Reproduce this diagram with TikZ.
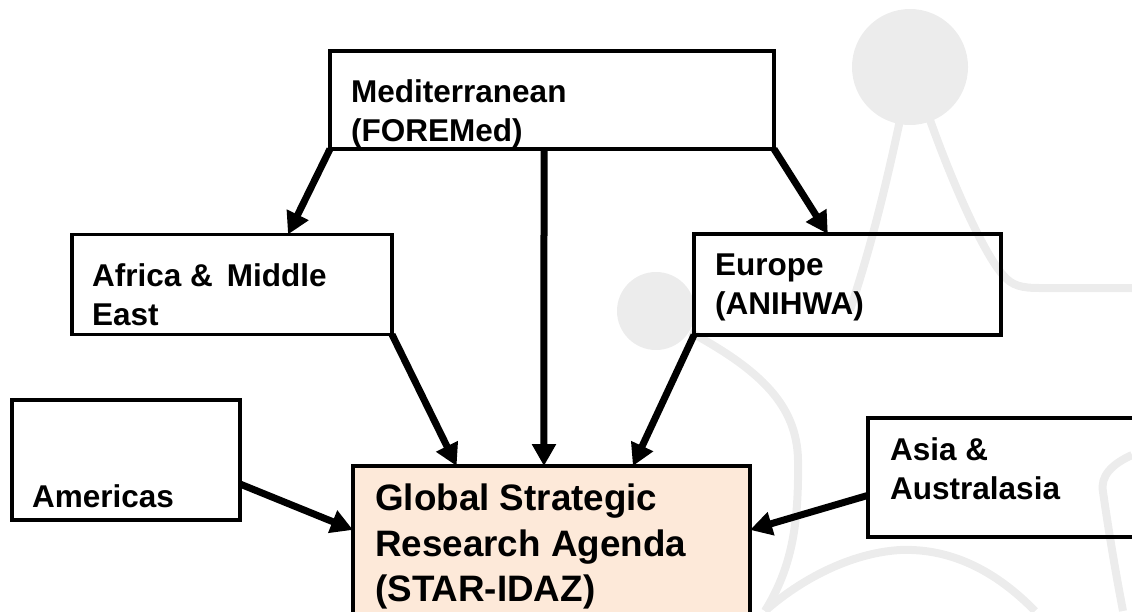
\documentclass[tikz,border=0pt]{standalone}
\usepackage{fontspec}
\setmainfont{Liberation Sans}
\usetikzlibrary{arrows.meta,calc}
\definecolor{logogray}{rgb}{0.925,0.925,0.925}
\definecolor{peach}{rgb}{0.992,0.914,0.851}

\begin{document}
\begin{tikzpicture}[x=1pt,y=-1pt,
    box/.style={draw,rectangle,line width=3.5pt,inner sep=0pt,outer sep=0pt},
    txt/.style={anchor=north west,inner sep=0pt,align=left,font=\fontsize{31.5}{39}\selectfont\bfseries},
    bigtxt/.style={txt,font=\fontsize{36.8}{45.5}\selectfont\bfseries},
    arr/.style={line width=7pt,-{Triangle[length=22pt,width=23pt]}}]
\useasboundingbox (0,0) rectangle (1132,611);
\fill[logogray] (910,67) circle (58);
\fill[logogray] (656,311) circle (39);
\draw[logogray,line width=8pt] (900,120) .. controls (885,190) and (870,250) .. (850,310);
\draw[logogray,line width=8pt] (930,120) .. controls (955,190) and (985,255) .. (1003,275) .. controls (1012,286) and (1022,288) .. (1040,288) -- (1132,288);
\draw[logogray,line width=8pt] (690,332) .. controls (760,370) and (797,405) .. (798,460) .. controls (799,530) and (790,570) .. (765,611);
\draw[logogray,line width=8pt] (765,611) .. controls (800,580) and (850,553) .. (900,550) .. controls (950,548) and (995,570) .. (1035,611);
\draw[logogray,line width=8pt] (1132,455) .. controls (1112,464) and (1100,476) .. (1103,492) .. controls (1110,540) and (1117,580) .. (1123,611);
\node[box,minimum width=444,minimum height=98] (med) at (552,100) {};
\node[box,minimum width=320,minimum height=100] (afr) at (232,284.5) {};
\node[box,minimum width=307,minimum height=101] (eur) at (847.5,284.5) {};
\node[box,minimum width=228,minimum height=120] (ame) at (126,460) {};
\node[box,fill=peach,minimum width=397,minimum height=180] (glo) at (551.5,556) {};
\node[box,minimum width=302,minimum height=119] (asi) at (1019,477.5) {};
\node[txt] (medtxt) at (351,79.5) {Mediterranean\\(FOREMed)};
\node[txt] (afrtxt) at (92,263.5) {Africa \&\, Middle\\East};
\node[txt] (eurtxt) at (715,253.5) {Europe\\(ANIHWA)};
\node[txt] (ametxt) at (32,484.5) {Americas};
\node[txt] (asitxt) at (890,437.5) {Asia \&\\Australasia};
\node[bigtxt] (glotxt) at (375,484) {Global Strategic\\Research Agenda\\(STAR-IDAZ)};
\coordinate (afrin) at ($(afr.north west)!.675!(afr.north east)$);
\coordinate (eurin) at ($(eur.north west)!.436!(eur.north east)$);
\coordinate (medout) at ($(med.south west)!.482!(med.south east)$);
\coordinate (gloa) at ($(glo.north west)!.261!(glo.north east)$);
\coordinate (glob) at ($(glo.north west)!.481!(glo.north east)$);
\coordinate (gloc) at ($(glo.north west)!.705!(glo.north east)$);
\coordinate (amout) at ($(ame.north east)!.7!(ame.south east)$);
\coordinate (glow) at ($(glo.north west)!.355!(glo.south west)$);
\coordinate (asiout) at ($(asi.north west)!.65!(asi.south west)$);
\coordinate (gloe) at ($(glo.north east)!.355!(glo.south east)$);
\foreach \s/\t in {med.south west/afrin, medout/glob, med.south east/eurin,
    afr.south east/gloa, eur.south west/gloc, amout/glow, asiout/gloe}
    \draw[arr] (\s) -- (\t);
\end{tikzpicture}
\end{document}
